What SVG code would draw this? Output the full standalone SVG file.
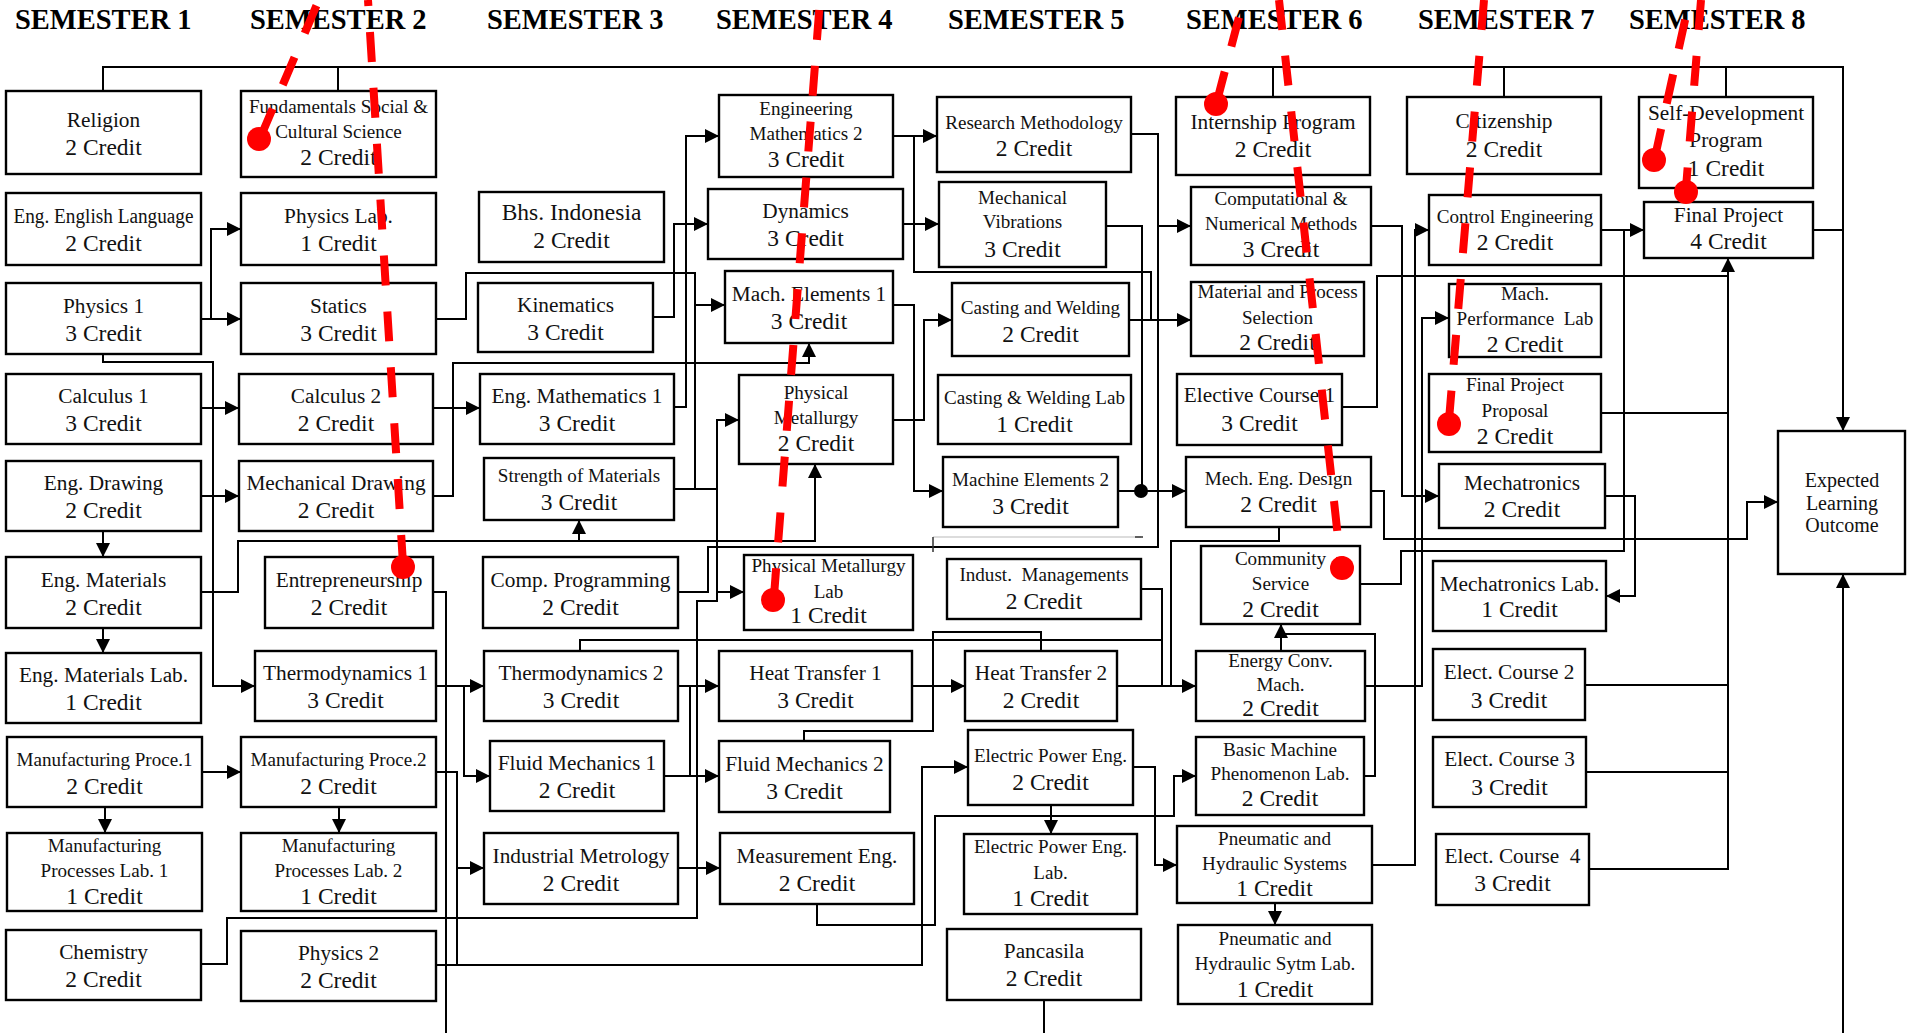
<svg xmlns="http://www.w3.org/2000/svg" width="1907" height="1033" viewBox="0 0 1907 1033">
<style>
  .box { fill: #fff; stroke: #000; stroke-width: 2.4; }
  .t { font-family: "Liberation Serif", "Times New Roman", serif; font-size: 21.3px; fill: #111; text-anchor: middle; }
  .s { font-family: "Liberation Serif", "Times New Roman", serif; font-size: 19.1px; fill: #111; text-anchor: middle; }
  .c { font-family: "Liberation Serif", "Times New Roman", serif; font-size: 23.5px; fill: #111; text-anchor: middle; }
  .hd { font-family: "Liberation Serif", "Times New Roman", serif; font-weight: bold; font-size: 28.5px; fill: #000; }
  .ln { fill: none; stroke: #000; stroke-width: 2; }
  .ar { fill: none; stroke: #000; stroke-width: 2; marker-end: url(#ah); }
  .mark { fill: none; stroke: #ff0000; stroke-width: 8; stroke-dasharray: 30 26; }
  .pin { fill: #ff0000; }
</style>
<defs>
  <marker id="ah" markerUnits="userSpaceOnUse" markerWidth="14" markerHeight="14" refX="14" refY="7" orient="auto">
    <path d="M0,0 L14,7 L0,14 z" fill="#000"/>
  </marker>
</defs>
<rect width="1907" height="1033" fill="#fff"/>

<!-- semester headings -->
<g id="headings">
  <text class="hd" x="15" y="29">SEMESTER 1</text>
  <text class="hd" x="250" y="29">SEMESTER 2</text>
  <text class="hd" x="487" y="29">SEMESTER 3</text>
  <text class="hd" x="716" y="29">SEMESTER 4</text>
  <text class="hd" x="948" y="29">SEMESTER 5</text>
  <text class="hd" x="1186" y="29">SEMESTER 6</text>
  <text class="hd" x="1418" y="29">SEMESTER 7</text>
  <text class="hd" x="1629" y="29">SEMESTER 8</text>
</g>

<!-- prerequisite connectors -->
<g id="connectors">
  <path class="ar" d="M103,91 V67 H1843 V431"/>
  <path class="ln" d="M338,67 V91 M1273,67 V97 M1504,67 V97 M1726,67 V97"/>

  <path class="ar" d="M201,319 H211 V229 H241"/>
  <path class="ar" d="M211,319 H241"/>
  <path class="ar" d="M201,408 H239"/>
  <path class="ar" d="M201,496 H239"/>
  <path class="ar" d="M103,531 V557"/>
  <path class="ar" d="M103,628 V653"/>
  <path class="ar" d="M103,354 V362 H213 V686 H255"/>
  <path class="ar" d="M201,592 H238 V541 H815 V464"/>
  <path class="ar" d="M579,541 V520"/>
  <path class="ar" d="M202,772 H241"/>
  <path class="ar" d="M105,807 V833"/>
  <path class="ar" d="M339,807 V833"/>
  <path class="ar" d="M201,964 H227 V918 H697 V601 H717 V420 H739"/>
  <path class="ar" d="M717,592 H744"/>

  <path class="ar" d="M433,408 H480"/>
  <path class="ar" d="M433,496 H453 V363 H809 V343"/>
  <path class="ar" d="M436,319 H466 V273 H695 V305 H725"/>
  <path class="ln" d="M433,592 H446 V1033"/>
  <path class="ar" d="M436,686 H484"/>
  <path class="ar" d="M464,686 V776 H490"/>
  <path class="ln" d="M436,772 H457 V965"/>
  <path class="ar" d="M457,868 H484"/>
  <path class="ar" d="M436,965 H922 V767 H968"/>

  <path class="ar" d="M653,317 H674 V224 H708"/>
  <path class="ar" d="M674,407 H686 V136 H719"/>
  <path class="ln" d="M674,489 H717 M695,489 V305"/>
  <path class="ar" d="M1131,134 H1158 V226 H1191"/>
  <path class="ln" d="M678,592 H708 V547 H1158 V226"/>
  <path class="ln" d="M580,651 V640 H1162"/>
  <path class="ar" d="M678,686 H719"/>
  <path class="ln" d="M690,686 V776"/>
  <path class="ar" d="M664,776 H719"/>
  <path class="ar" d="M678,868 H720"/>

  <path class="ar" d="M893,136 H937"/>
  <path class="ln" d="M914,136 V272 H1151 V320"/>
  <path class="ar" d="M903,224 H939"/>
  <path class="ar" d="M893,305 H914 V491 H943"/>
  <path class="ar" d="M893,420 H924 V320 H952"/>
  <path class="ln" d="M804,741 V731 H933 V632 H1041 V651"/>
  <path class="ar" d="M912,686 H965"/>
  <path class="ar" d="M817,904 V925 H935 V816 H1174 V776 H1196"/>

  <path class="ar" d="M1129,320 H1191"/>
  <path class="ln" d="M1106,226 H1142 V491"/>
  <path class="ar" d="M1118,491 H1186"/>
  <circle cx="1141" cy="491" r="7" fill="#000"/>
  <path class="ln" d="M1141,589 H1162 V686"/>
  <path class="ar" d="M1117,686 H1196"/>
  <path class="ln" d="M1279,527 V541 H1171 V686"/>
  <path class="ar" d="M1133,767 H1155 V865 H1177"/>
  <path class="ar" d="M1051,805 V834"/>
  <path class="ln" d="M1044,1000 V1033"/>
  <path d="M933,537 H1141" fill="none" stroke="#d0d0d0" stroke-width="1.5"/>
  <path d="M933,537 V552 M1135,537 H1143" fill="none" stroke="#333" stroke-width="1.5"/>

  <path class="ar" d="M1371,226 H1402 V496 H1439"/>
  <path class="ar" d="M1372,865 H1415 V230 H1429"/>
  <path class="ar" d="M1365,686 H1422 V318 H1449"/>
  <path class="ln" d="M1342,407 H1377 V276 H1728"/>
  <path class="ar" d="M1371,491 H1384 V539 H1747 V502 H1778"/>
  <path class="ln" d="M1360,584 H1401 V551 H1624 V230"/>
  <path class="ar" d="M1281,651 V624"/>
  <path class="ln" d="M1364,776 H1375 V634 H1281"/>
  <path class="ar" d="M1275,903 V925"/>

  <path class="ar" d="M1601,230 H1644"/>
  <path class="ln" d="M1601,413 H1728 M1585,685 H1728 M1586,772 H1728"/>
  <path class="ar" d="M1589,869 H1728 V258"/>
  <path class="ar" d="M1605,496 H1635 V596 H1606"/>
  <path class="ln" d="M1813,230 H1843"/>
  <path class="ar" d="M1843,1033 V574"/>
</g>

<!-- semester 1 -->
<g id="n-religion"><rect class="box" x="6" y="91" width="195" height="83"/><text class="t" x="103.5" y="126.5">Religion</text><text class="c" x="103.5" y="154.5">2 Credit</text></g>
<g id="n-english"><rect class="box" x="6" y="193" width="195" height="72"/><text class="t" x="103.5" y="223" textLength="180" lengthAdjust="spacingAndGlyphs">Eng. English Language</text><text class="c" x="103.5" y="251">2 Credit</text></g>
<g id="n-physics1"><rect class="box" x="6" y="283" width="195" height="71"/><text class="t" x="103.5" y="312.5">Physics 1</text><text class="c" x="103.5" y="340.5">3 Credit</text></g>
<g id="n-calculus1"><rect class="box" x="6" y="374" width="195" height="70"/><text class="t" x="103.5" y="403">Calculus 1</text><text class="c" x="103.5" y="431">3 Credit</text></g>
<g id="n-engdrawing"><rect class="box" x="6" y="461" width="195" height="70"/><text class="t" x="103.5" y="490">Eng. Drawing</text><text class="c" x="103.5" y="518">2 Credit</text></g>
<g id="n-engmaterials"><rect class="box" x="6" y="557" width="195" height="71"/><text class="t" x="103.5" y="586.5">Eng. Materials</text><text class="c" x="103.5" y="614.5">2 Credit</text></g>
<g id="n-engmatlab"><rect class="box" x="6" y="653" width="195" height="70"/><text class="t" x="103.5" y="682">Eng. Materials Lab.</text><text class="c" x="103.5" y="710">1 Credit</text></g>
<g id="n-manuf1"><rect class="box" x="7" y="737" width="195" height="70"/><text class="s" x="104.5" y="766">Manufacturing Proce.1</text><text class="c" x="104.5" y="794">2 Credit</text></g>
<g id="n-manuflab1"><rect class="box" x="7" y="833" width="195" height="78"/><text class="s" x="104.5" y="852">Manufacturing</text><text class="s" x="104.5" y="877">Processes Lab. 1</text><text class="c" x="104.5" y="904">1 Credit</text></g>
<g id="n-chemistry"><rect class="box" x="6" y="930" width="195" height="70"/><text class="t" x="103.5" y="959">Chemistry</text><text class="c" x="103.5" y="987">2 Credit</text></g>

<!-- semester 2 -->
<g id="n-fundamentals"><rect class="box" x="241" y="91" width="195" height="86"/><text class="s" x="338.5" y="113">Fundamentals Social &amp;</text><text class="s" x="338.5" y="138">Cultural Science</text><text class="c" x="338.5" y="165">2 Credit</text></g>
<g id="n-physicslab"><rect class="box" x="241" y="193" width="195" height="72"/><text class="t" x="338.5" y="223">Physics Lab.</text><text class="c" x="338.5" y="251">1 Credit</text></g>
<g id="n-statics"><rect class="box" x="241" y="283" width="195" height="71"/><text class="t" x="338.5" y="312.5">Statics</text><text class="c" x="338.5" y="340.5">3 Credit</text></g>
<g id="n-calculus2"><rect class="box" x="239" y="374" width="194" height="70"/><text class="t" x="336" y="403">Calculus 2</text><text class="c" x="336" y="431">2 Credit</text></g>
<g id="n-mechdrawing"><rect class="box" x="239" y="461" width="194" height="70"/><text class="t" x="336" y="490">Mechanical Drawing</text><text class="c" x="336" y="518">2 Credit</text></g>
<g id="n-entrepreneurship"><rect class="box" x="265" y="557" width="168" height="71"/><text class="t" x="349" y="586.5">Entrepreneurship</text><text class="c" x="349" y="614.5">2 Credit</text></g>
<g id="n-thermo1"><rect class="box" x="255" y="651" width="181" height="70"/><text class="t" x="345.5" y="680">Thermodynamics 1</text><text class="c" x="345.5" y="708">3 Credit</text></g>
<g id="n-manuf2"><rect class="box" x="241" y="737" width="195" height="70"/><text class="s" x="338.5" y="766">Manufacturing Proce.2</text><text class="c" x="338.5" y="794">2 Credit</text></g>
<g id="n-manuflab2"><rect class="box" x="241" y="833" width="195" height="78"/><text class="s" x="338.5" y="852">Manufacturing</text><text class="s" x="338.5" y="877">Processes Lab. 2</text><text class="c" x="338.5" y="904">1 Credit</text></g>
<g id="n-physics2"><rect class="box" x="241" y="931" width="195" height="70"/><text class="t" x="338.5" y="960">Physics 2</text><text class="c" x="338.5" y="988">2 Credit</text></g>

<!-- semester 3 -->
<g id="n-indonesia"><rect class="box" x="479" y="192" width="185" height="70"/><text class="c" x="571.5" y="220">Bhs. Indonesia</text><text class="c" x="571.5" y="248">2 Credit</text></g>
<g id="n-kinematics"><rect class="box" x="478" y="283" width="175" height="69"/><text class="t" x="565.5" y="311.5">Kinematics</text><text class="c" x="565.5" y="339.5">3 Credit</text></g>
<g id="n-engmath1"><rect class="box" x="480" y="374" width="194" height="70"/><text class="t" x="577" y="403">Eng. Mathematics 1</text><text class="c" x="577" y="431">3 Credit</text></g>
<g id="n-strength"><rect class="box" x="484" y="458" width="190" height="62"/><text class="s" x="579" y="482">Strength of Materials</text><text class="c" x="579" y="510">3 Credit</text></g>
<g id="n-compprog"><rect class="box" x="483" y="557" width="195" height="71"/><text class="t" x="580.5" y="586.5">Comp. Programming</text><text class="c" x="580.5" y="614.5">2 Credit</text></g>
<g id="n-thermo2"><rect class="box" x="484" y="651" width="194" height="70"/><text class="t" x="581" y="680">Thermodynamics 2</text><text class="c" x="581" y="708">3 Credit</text></g>
<g id="n-fluid1"><rect class="box" x="490" y="741" width="174" height="70"/><text class="t" x="577" y="770">Fluid Mechanics 1</text><text class="c" x="577" y="798">2 Credit</text></g>
<g id="n-metrology"><rect class="box" x="484" y="833" width="194" height="71"/><text class="t" x="581" y="862.5">Industrial Metrology</text><text class="c" x="581" y="890.5">2 Credit</text></g>

<!-- semester 4 -->
<g id="n-engmath2"><rect class="box" x="719" y="95" width="174" height="82"/><text class="s" x="806" y="115">Engineering</text><text class="s" x="806" y="140">Mathematics 2</text><text class="c" x="806" y="167">3 Credit</text></g>
<g id="n-dynamics"><rect class="box" x="708" y="189" width="195" height="70"/><text class="t" x="805.5" y="218">Dynamics</text><text class="c" x="805.5" y="246">3 Credit</text></g>
<g id="n-machelem1"><rect class="box" x="725" y="271" width="168" height="72"/><text class="t" x="809" y="301">Mach. Elements 1</text><text class="c" x="809" y="329">3 Credit</text></g>
<g id="n-physmet"><rect class="box" x="739" y="375" width="154" height="89"/><text class="s" x="816" y="399">Physical</text><text class="s" x="816" y="424">Metallurgy</text><text class="c" x="816" y="451">2 Credit</text></g>
<g id="n-physmetlab"><rect class="box" x="744" y="555" width="169" height="75"/><text class="s" x="828.5" y="572">Physical Metallurgy</text><text class="s" x="828.5" y="598">Lab</text><text class="c" x="828.5" y="623">1 Credit</text></g>
<g id="n-heat1"><rect class="box" x="719" y="651" width="193" height="70"/><text class="t" x="815.5" y="680">Heat Transfer 1</text><text class="c" x="815.5" y="708">3 Credit</text></g>
<g id="n-fluid2"><rect class="box" x="719" y="741" width="171" height="71"/><text class="t" x="804.5" y="770.5">Fluid Mechanics 2</text><text class="c" x="804.5" y="798.5">3 Credit</text></g>
<g id="n-measurement"><rect class="box" x="720" y="833" width="194" height="71"/><text class="t" x="817" y="862.5">Measurement Eng.</text><text class="c" x="817" y="890.5">2 Credit</text></g>

<!-- semester 5 -->
<g id="n-research"><rect class="box" x="937" y="97" width="194" height="75"/><text class="s" x="1034" y="128.5">Research Methodology</text><text class="c" x="1034" y="155.5">2 Credit</text></g>
<g id="n-vibrations"><rect class="box" x="939" y="182" width="167" height="85"/><text class="s" x="1022.5" y="204">Mechanical</text><text class="s" x="1022.5" y="228">Vibrations</text><text class="c" x="1022.5" y="257">3 Credit</text></g>
<g id="n-casting"><rect class="box" x="952" y="283" width="177" height="73"/><text class="s" x="1040.5" y="314">Casting and Welding</text><text class="c" x="1040.5" y="341.5">2 Credit</text></g>
<g id="n-castinglab"><rect class="box" x="938" y="375" width="193" height="69"/><text class="s" x="1034.5" y="403.5">Casting &amp; Welding Lab</text><text class="c" x="1034.5" y="431.5">1 Credit</text></g>
<g id="n-machelem2"><rect class="box" x="943" y="457" width="175" height="70"/><text class="s" x="1030.5" y="486">Machine Elements 2</text><text class="c" x="1030.5" y="514">3 Credit</text></g>
<g id="n-industman"><rect class="box" x="947" y="559" width="194" height="60"/><text class="s" x="1044" y="581">Indust.&#160; Managements</text><text class="c" x="1044" y="609">2 Credit</text></g>
<g id="n-heat2"><rect class="box" x="965" y="651" width="152" height="70"/><text class="t" x="1041" y="680">Heat Transfer 2</text><text class="c" x="1041" y="708">2 Credit</text></g>
<g id="n-elecpower"><rect class="box" x="968" y="730" width="165" height="75"/><text class="s" x="1050.5" y="762">Electric Power Eng.</text><text class="c" x="1050.5" y="790">2 Credit</text></g>
<g id="n-elecpowerlab"><rect class="box" x="964" y="834" width="173" height="80"/><text class="s" x="1050.5" y="853">Electric Power Eng.</text><text class="s" x="1050.5" y="879">Lab.</text><text class="c" x="1050.5" y="906">1 Credit</text></g>
<g id="n-pancasila"><rect class="box" x="947" y="929" width="194" height="71"/><text class="t" x="1044" y="958">Pancasila</text><text class="c" x="1044" y="986">2 Credit</text></g>

<!-- semester 6 -->
<g id="n-internship"><rect class="box" x="1176" y="97" width="194" height="78"/><text class="t" x="1273" y="129">Internship Program</text><text class="c" x="1273" y="157">2 Credit</text></g>
<g id="n-computational"><rect class="box" x="1191" y="187" width="180" height="78"/><text class="s" x="1281" y="205">Computational &amp;</text><text class="s" x="1281" y="230">Numerical Methods</text><text class="c" x="1281" y="257">3 Credit</text></g>
<g id="n-matprocess"><rect class="box" x="1191" y="282" width="173" height="74"/><text class="s" x="1277.5" y="298">Material and Process</text><text class="s" x="1277.5" y="324">Selection</text><text class="c" x="1277.5" y="350">2 Credit</text></g>
<g id="n-elective1"><rect class="box" x="1177" y="374" width="165" height="71"/><text class="t" x="1259.5" y="402">Elective Course 1</text><text class="c" x="1259.5" y="431">3 Credit</text></g>
<g id="n-mechdesign"><rect class="box" x="1186" y="457" width="185" height="70"/><text class="s" x="1278.5" y="485">Mech. Eng. Design</text><text class="c" x="1278.5" y="512">2 Credit</text></g>
<g id="n-community"><rect class="box" x="1201" y="546" width="159" height="78"/><text class="s" x="1280.5" y="565">Community</text><text class="s" x="1280.5" y="590">Service</text><text class="c" x="1280.5" y="617">2 Credit</text></g>
<g id="n-energyconv"><rect class="box" x="1196" y="651" width="169" height="70"/><text class="s" x="1280.5" y="667">Energy Conv.</text><text class="s" x="1280.5" y="691">Mach.</text><text class="c" x="1280.5" y="716">2 Credit</text></g>
<g id="n-basicmachine"><rect class="box" x="1196" y="737" width="168" height="78"/><text class="s" x="1280" y="756">Basic Machine</text><text class="s" x="1280" y="780">Phenomenon Lab.</text><text class="c" x="1280" y="806">2 Credit</text></g>
<g id="n-pneumatic"><rect class="box" x="1177" y="826" width="195" height="77"/><text class="s" x="1274.5" y="845">Pneumatic and</text><text class="s" x="1274.5" y="870">Hydraulic Systems</text><text class="c" x="1274.5" y="896">1 Credit</text></g>
<g id="n-pneumaticlab"><rect class="box" x="1178" y="925" width="194" height="79"/><text class="s" x="1275" y="945">Pneumatic and</text><text class="s" x="1275" y="970">Hydraulic Sytm Lab.</text><text class="c" x="1275" y="997">1 Credit</text></g>

<!-- semester 7 -->
<g id="n-citizenship"><rect class="box" x="1407" y="97" width="194" height="77"/><text class="t" x="1504" y="128">Citizenship</text><text class="c" x="1504" y="157">2 Credit</text></g>
<g id="n-control"><rect class="box" x="1429" y="195" width="172" height="70"/><text class="s" x="1515" y="223">Control Engineering</text><text class="c" x="1515" y="250">2 Credit</text></g>
<g id="n-machperf"><rect class="box" x="1449" y="284" width="152" height="73"/><text class="s" x="1525" y="300">Mach.</text><text class="s" x="1525" y="325">Performance&#160; Lab</text><text class="c" x="1525" y="352">2 Credit</text></g>
<g id="n-fpproposal"><rect class="box" x="1429" y="374" width="172" height="78"/><text class="s" x="1515" y="391">Final Project</text><text class="s" x="1515" y="417">Proposal</text><text class="c" x="1515" y="444">2 Credit</text></g>
<g id="n-mechatronics"><rect class="box" x="1439" y="464" width="166" height="64"/><text class="t" x="1522" y="490">Mechatronics</text><text class="c" x="1522" y="517">2 Credit</text></g>
<g id="n-mechatronicslab"><rect class="box" x="1433" y="561" width="173" height="70"/><text class="t" x="1519.5" y="591">Mechatronics Lab.</text><text class="c" x="1519.5" y="617">1 Credit</text></g>
<g id="n-elective2"><rect class="box" x="1433" y="649" width="152" height="71"/><text class="t" x="1509" y="679">Elect. Course 2</text><text class="c" x="1509" y="708">3 Credit</text></g>
<g id="n-elective3"><rect class="box" x="1433" y="737" width="153" height="70"/><text class="t" x="1509.5" y="766">Elect. Course 3</text><text class="c" x="1509.5" y="795">3 Credit</text></g>
<g id="n-elective4"><rect class="box" x="1436" y="834" width="153" height="71"/><text class="t" x="1512.5" y="863">Elect. Course&#160; 4</text><text class="c" x="1512.5" y="891">3 Credit</text></g>

<!-- semester 8 -->
<g id="n-selfdev"><rect class="box" x="1639" y="97" width="174" height="91"/><text class="t" x="1726" y="120">Self-Development</text><text class="t" x="1726" y="147">Program</text><text class="c" x="1726" y="176">1 Credit</text></g>
<g id="n-finalproject"><rect class="box" x="1644" y="202" width="169" height="56"/><text class="t" x="1728.5" y="222">Final Project</text><text class="c" x="1728.5" y="249">4 Credit</text></g>
<g id="n-outcome"><rect class="box" x="1778" y="431" width="127" height="143"/><text class="t" x="1842" y="487" style="font-size:20px">Expected</text><text class="t" x="1842" y="510" style="font-size:20px">Learning</text><text class="t" x="1842" y="532" style="font-size:20px">Outcome</text></g>

<!-- red pin markers drawn over the chart -->
<g id="pins">
  <path class="mark" d="M318,2 L261,136" stroke-dashoffset="-4"/>
  <circle class="pin" cx="259" cy="139" r="12"/>
  <path class="mark" d="M368,0 L403,564" stroke-dashoffset="24"/>
  <circle class="pin" cx="403" cy="567" r="12"/>
  <path class="mark" d="M820,0 L774,596" stroke-dashoffset="-10"/>
  <circle class="pin" cx="773" cy="600" r="12"/>
  <path class="mark" d="M1243,2 L1217,101" stroke-dashoffset="-16"/>
  <circle class="pin" cx="1216" cy="104" r="12"/>
  <path class="mark" d="M1279,0 L1341,565" stroke-dashoffset="0"/>
  <circle class="pin" cx="1342" cy="568" r="12"/>
  <path class="mark" d="M1484,0 L1449,420" stroke-dashoffset="0"/>
  <circle class="pin" cx="1449" cy="424" r="12"/>
  <path class="mark" d="M1701,0 L1686,188" stroke-dashoffset="0"/>
  <circle class="pin" cx="1686" cy="192" r="12"/>
  <path class="mark" d="M1689,2 L1655,157" stroke-dashoffset="-18"/>
  <circle class="pin" cx="1654" cy="160" r="12"/>
</g>
</svg>
